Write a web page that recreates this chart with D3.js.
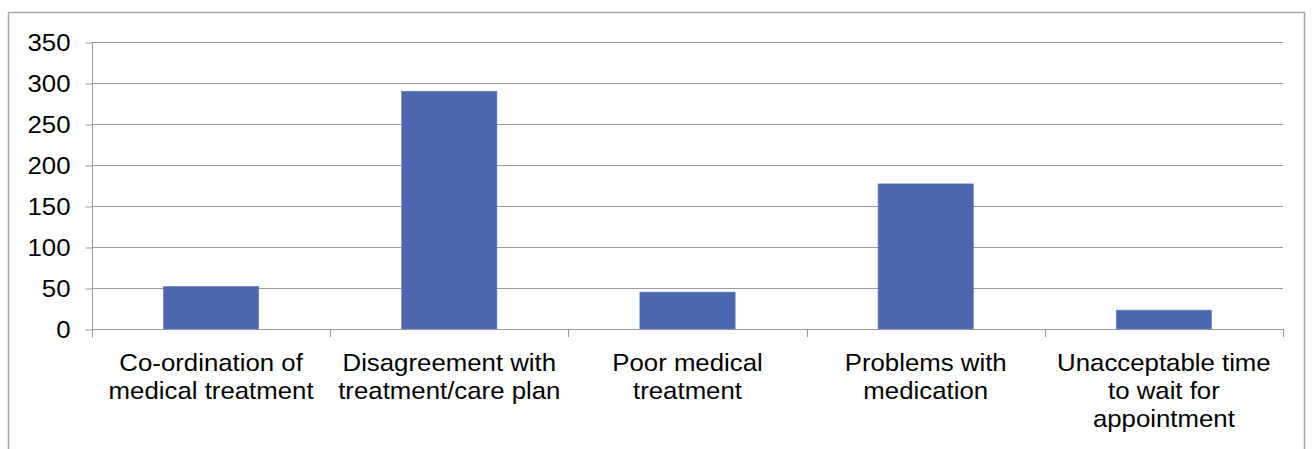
<!DOCTYPE html>
<html><head><meta charset="utf-8">
<script src="https://cdn.jsdelivr.net/npm/d3@7"></script>
<style>
html,body{margin:0;padding:0;background:#fff;}
svg{display:block;}
text{font-family:"Liberation Sans",Arial,sans-serif;fill:#000;}
</style></head>
<body>
<svg id="chart" width="1314" height="449"></svg>
<script>
const categories = [
  ["Co-ordination of", "medical treatment"],
  ["Disagreement with", "treatment/care plan"],
  ["Poor medical", "treatment"],
  ["Problems with", "medication"],
  ["Unacceptable time", "to wait for", "appointment"]
];
const values = [52, 290, 45, 177, 23];
const yTicks = [0, 50, 100, 150, 200, 250, 300, 350];

(function(){
const svg = d3.select("#chart");
const pL = 92, pR = 1283, pT = 42, pB = 329;
const fontSize = 24, sx = 1.075;

// outer border
svg.append("rect").attr("x", 8.5).attr("y", 12.5).attr("width", 1304 - 8).attr("height", 460)
  .attr("fill", "none").attr("stroke", "#a6a6a6").attr("stroke-width", 1.5);

const keys = categories.map((c, i) => i);
const x = d3.scaleBand().domain(keys).range([pL, pR]).paddingInner(0.6).paddingOuter(0.3);
const xb = d3.scaleBand().domain(keys).range([pL, pR]).padding(0);
const y = d3.scaleLinear().domain([0, 350]).range([pB, pT]);

// gridlines
svg.append("g").selectAll("line").data(yTicks).join("line")
  .attr("x1", pL).attr("x2", pR)
  .attr("y1", d => Math.round(y(d)) + 0.5).attr("y2", d => Math.round(y(d)) + 0.5)
  .attr("stroke", "#9a9a9a").attr("stroke-width", 1);

// y axis
const yAxis = d3.axisLeft(y).tickValues(yTicks).tickSize(7).tickPadding(15).tickFormat(d3.format("d"));
const gy = svg.append("g").attr("transform", `translate(${pL + 0.5},0.5)`).call(yAxis);
gy.select(".domain").attr("stroke", "#9a9a9a").attr("d", `M0,${pT}V${pB + 8}`);
gy.selectAll(".tick line").attr("stroke", "#9a9a9a");
gy.selectAll(".tick text").attr("font-size", fontSize).attr("font-family", '"Liberation Sans",Arial,sans-serif')
  .attr("fill", "#000")
  .attr("transform", function(){ const xx = +d3.select(this).attr("x"); return `translate(${xx*(1-sx)},0) scale(${sx},1)`; })
  .attr("dy", "0.35em");

// x axis ticks at category boundaries
const bounds = keys.map(k => xb(k)).concat([pR]);
svg.append("g").selectAll("line").data(bounds).join("line")
  .attr("x1", d => Math.round(d) + 0.5).attr("x2", d => Math.round(d) + 0.5)
  .attr("y1", pB).attr("y2", pB + 8)
  .attr("stroke", "#9a9a9a");

// bars
svg.append("g").selectAll("rect").data(values).join("rect")
  .attr("x", (d, i) => x(i)).attr("width", x.bandwidth())
  .attr("y", d => y(d)).attr("height", d => pB - y(d))
  .attr("fill", "#4a66ac").attr("stroke", "#6a84c0").attr("stroke-width", 0.6);

// category labels
const lg = svg.append("g");
categories.forEach((lines, i) => {
  const cx = xb(i) + xb.bandwidth() / 2;
  const t = lg.append("text").attr("text-anchor", "middle").attr("font-size", fontSize)
    .attr("transform", `translate(${cx},0) scale(${sx},1)`);
  lines.forEach((ln, j) => {
    t.append("tspan").attr("x", 0).attr("y", 371 + j * 28).text(ln);
  });
});
})();
</script>
</body></html>
